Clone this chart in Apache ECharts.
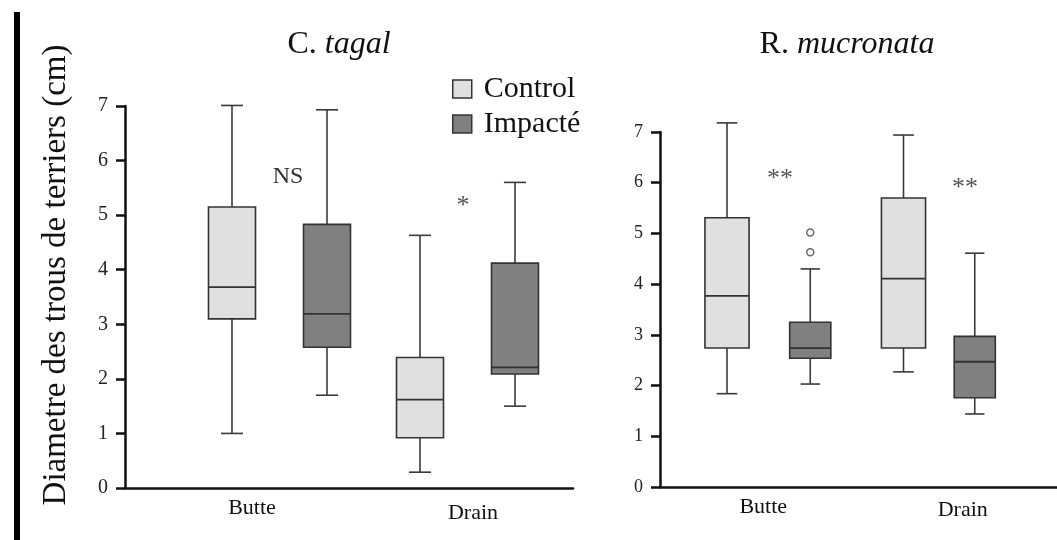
<!DOCTYPE html>
<html><head><meta charset="utf-8">
<script src="https://cdn.jsdelivr.net/npm/echarts@6/dist/echarts.min.js"></script>
<style>html,body{margin:0;padding:0;background:#fff}#c{width:1057px;height:540px}</style>
</head><body><div id="c"></div>
<script>
// ---- data ----
const categories = ['Butte', 'Drain'];
const yTicks = [0, 1, 2, 3, 4, 5, 6, 7];
// each item: [min, Q1, median, Q3, max]
const tagalControl = [[1.00, 3.10, 3.68, 5.15, 7.01], [0.29, 0.92, 1.62, 2.39, 4.63]];
const tagalImpacte = [[1.70, 2.58, 3.19, 4.83, 6.93], [1.50, 2.09, 2.21, 4.12, 5.60]];
const mucronataControl = [[1.84, 2.74, 3.77, 5.31, 7.18], [2.27, 2.74, 4.11, 5.70, 6.94]];
const mucronataImpacte = [[2.03, 2.54, 2.74, 3.25, 4.30], [1.44, 1.76, 2.47, 2.97, 4.61]];
const mucronataImpacteOutliers = [['Butte', 5.02], ['Butte', 4.63]];
const seriesNames = ['Control', 'Impacté'];
const panelTitles = [['C.', 'tagal'], ['R.', 'mucronata']];
const yAxisTitle = 'Diametre des trous de terriers (cm)';
const significance = ['NS', '*', '**', '**'];

// ---- styles ----
const SERIF = '"Liberation Serif", "DejaVu Serif", serif';
const FILL_C = '#e0e0e0', FILL_I = '#808080', STROKE = '#333';

function boxRenderer(fill, capFrac) {
  return function (params, api) {
    const ci = api.value(0);
    const pts = [1, 2, 3, 4, 5].map(d => api.coord([ci, api.value(d)]));
    const [pMin, pQ1, pMed, pQ3, pMax] = pts;
    const cx = pMin[0];
    const band = api.size([1, 0])[0];
    const bw = band * 0.25;
    const cap = bw * capFrac;
    const ls = { stroke: '#3a3a3a', lineWidth: 1.6 };
    return { type: 'group', children: [
      { type: 'line', shape: { x1: cx, y1: pQ3[1], x2: cx, y2: pMax[1] }, style: ls },
      { type: 'line', shape: { x1: cx - cap / 2, y1: pMax[1], x2: cx + cap / 2, y2: pMax[1] }, style: ls },
      { type: 'line', shape: { x1: cx, y1: pQ1[1], x2: cx, y2: pMin[1] }, style: ls },
      { type: 'line', shape: { x1: cx - cap / 2, y1: pMin[1], x2: cx + cap / 2, y2: pMin[1] }, style: ls },
      { type: 'rect', shape: { x: cx - bw / 2, y: pQ3[1], width: bw, height: pQ1[1] - pQ3[1] }, style: { fill: fill, stroke: STROKE, lineWidth: 1.6 } },
      { type: 'line', shape: { x1: cx - bw / 2, y1: pMed[1], x2: cx + bw / 2, y2: pMed[1] }, style: { stroke: STROKE, lineWidth: 1.8 } }
    ] };
  };
}
function toData(arr) { return arr.map((v, i) => [i].concat(v)); }

const grids = [
  { left: 125, width: 448, top: 106, height: 382 },   // frame left
  { left: 138, width: 376, top: 106, height: 382 },   // control left
  { left: 233, width: 376, top: 106, height: 382 },   // impacte left
  { left: 660, width: 397, top: 132, height: 355 },   // frame right
  { left: 638.75, width: 353, top: 132, height: 355 },// control right
  { left: 728, width: 352, top: 132, height: 355 }    // impacte right
];

function frameX(labelFont, bShift, dShift, dDown) {
  return {
    type: 'category', data: categories,
    axisLine: { lineStyle: { color: '#111', width: 2.5 } },
    axisTick: { show: false },
    axisLabel: {
      margin: 9,
      formatter: (v, i) => i === 0 ? '{b|' + v + '}' : '{d|' + v + '}',
      rich: {
        b: { fontFamily: SERIF, fontSize: labelFont, color: '#111', padding: [0, 0, 0, bShift * 2] },
        d: { fontFamily: SERIF, fontSize: labelFont, color: '#111', padding: [dDown, 0, 0, dShift * 2] }
      }
    }
  };
}
function frameY(font) {
  return {
    type: 'value', min: yTicks[0], max: yTicks[yTicks.length - 1], interval: 1,
    axisLine: { show: true, lineStyle: { color: '#111', width: 2.5 } },
    axisTick: { show: true, length: 9, lineStyle: { color: '#111', width: 2.5 } },
    splitLine: { show: false },
    axisLabel: { margin: 17, fontFamily: SERIF, fontSize: font, color: '#222' }
  };
}
const hiddenX = { type: 'category', data: categories, show: false };
const hiddenY = { type: 'value', min: 0, max: 7, show: false, splitLine: { show: false } };

const xAxes = [frameX(22, 15, 12, 5), hiddenX, hiddenX, frameX(22, 4, 5, 3), hiddenX, hiddenX]
  .map((a, i) => Object.assign({}, a, { gridIndex: i }));
const yAxes = [frameY(20), hiddenY, hiddenY, frameY(18), hiddenY, hiddenY]
  .map((a, i) => Object.assign({}, a, { gridIndex: i }));

function boxSeries(name, arr, fill, idx) {
  return {
    type: 'custom', name: name, xAxisIndex: idx, yAxisIndex: idx,
    renderItem: boxRenderer(fill, 0.47),
    encode: { x: 0, y: [1, 2, 3, 4, 5] },
    itemStyle: { color: fill, borderColor: STROKE, borderWidth: 1.5 },
    data: toData(arr)
  };
}

const titleRich = {
  n: { fontFamily: SERIF, fontSize: 32, fill: '#111' },
  i: { fontFamily: SERIF, fontSize: 32, fontStyle: 'italic', fill: '#111' }
};
function txt(x, y, text, size, color) {
  return { type: 'text', x: x, y: y, style: { text: text, font: size + 'px ' + SERIF, fill: color, textAlign: 'center', textVerticalAlign: 'middle' } };
}

const option = {
  animation: false,
  backgroundColor: '#fff',
  grid: grids,
  xAxis: xAxes,
  yAxis: yAxes,
  legend: {
    orient: 'vertical', left: 452, top: 74, padding: 0,
    itemWidth: 19, itemHeight: 18, itemGap: 5, icon: 'rect',
    textStyle: { fontFamily: SERIF, fontSize: 30, color: '#111', lineHeight: 30, padding: [0, 0, 0, 7] },
    data: [
      { name: seriesNames[0], itemStyle: { color: FILL_C, borderColor: STROKE, borderWidth: 1.5 } },
      { name: seriesNames[1], itemStyle: { color: FILL_I, borderColor: STROKE, borderWidth: 1.5 } }
    ]
  },
  graphic: [
    { type: 'rect', shape: { x: 14, y: 12, width: 6, height: 528 }, style: { fill: '#000' } },
    { type: 'text', x: 56, y: 275, rotation: Math.PI / 2,
      style: { text: yAxisTitle, font: '33px ' + SERIF, fill: '#111', textAlign: 'center', textVerticalAlign: 'middle' } },
    { type: 'text', x: 339, y: 45, style: { text: '{n|' + panelTitles[0][0] + '} {i|' + panelTitles[0][1] + '}', rich: titleRich, font: '32px ' + SERIF, fill: '#111', textAlign: 'center', textVerticalAlign: 'middle' } },
    { type: 'text', x: 847, y: 45, style: { text: '{n|' + panelTitles[1][0] + '} {i|' + panelTitles[1][1] + '}', rich: titleRich, font: '32px ' + SERIF, fill: '#111', textAlign: 'center', textVerticalAlign: 'middle' } },
    txt(288, 177, significance[0], 24, '#333'),
    txt(463, 206, significance[1], 26, '#555'),
    txt(780, 179, significance[2], 26, '#555'),
    txt(965, 188, significance[3], 26, '#555')
  ],
  series: [
    boxSeries(seriesNames[0], tagalControl, FILL_C, 1),
    boxSeries(seriesNames[1], tagalImpacte, FILL_I, 2),
    boxSeries(seriesNames[0], mucronataControl, FILL_C, 4),
    boxSeries(seriesNames[1], mucronataImpacte, FILL_I, 5),
    { type: 'scatter', name: 'outliers', xAxisIndex: 5, yAxisIndex: 5, symbol: 'circle', symbolSize: 7,
      itemStyle: { color: '#fff', borderColor: '#444', borderWidth: 1.5 }, data: mucronataImpacteOutliers }
  ]
};
const chart = echarts.init(document.getElementById('c'), null, { renderer: 'canvas' });
chart.setOption(option);
</script>
</body></html>
